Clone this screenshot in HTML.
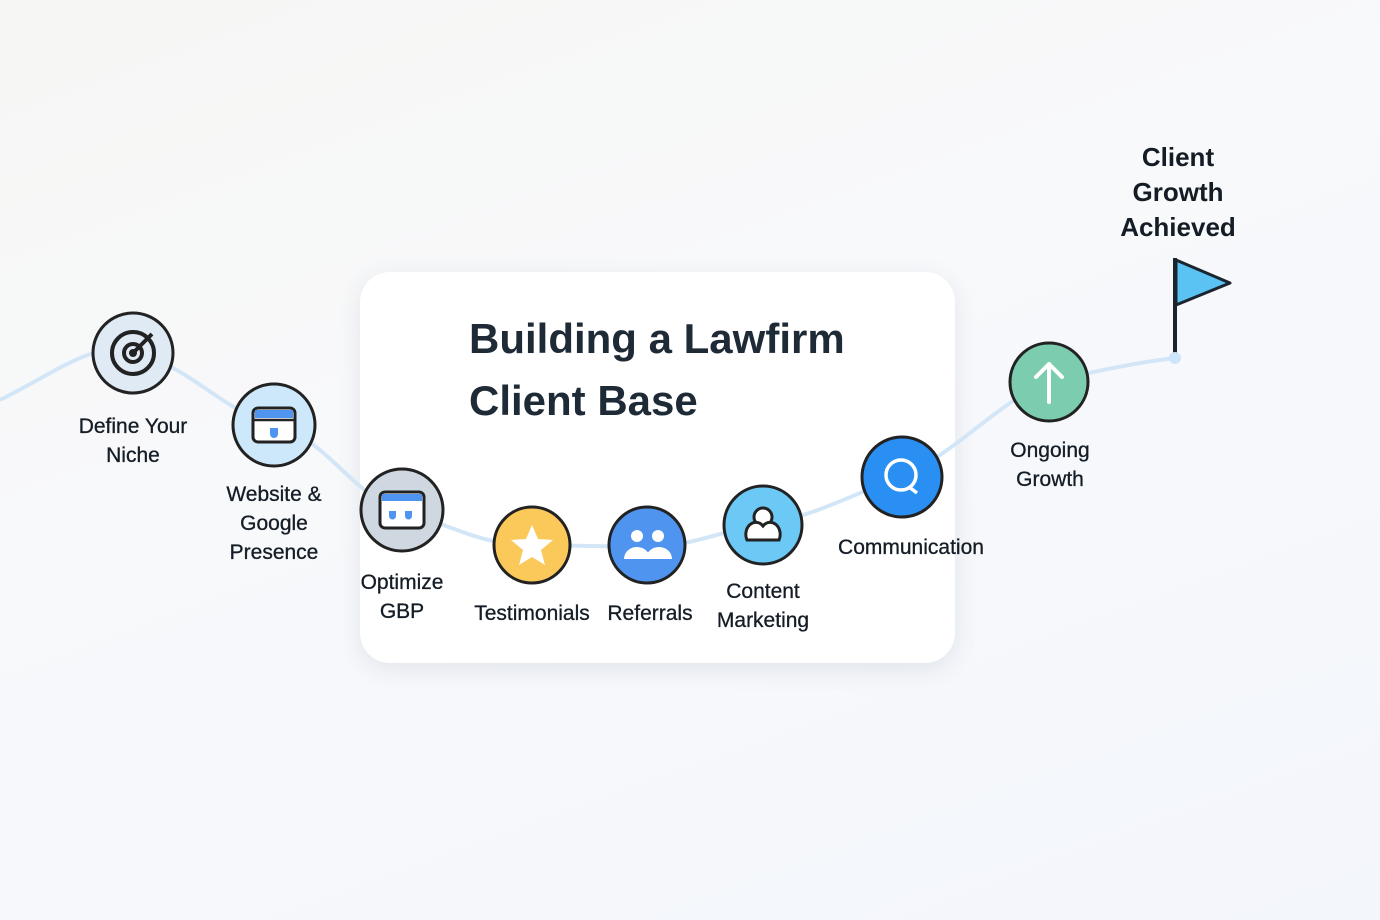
<!DOCTYPE html>
<html><head><style>
html,body{margin:0;padding:0}
body{width:1380px;height:920px;overflow:hidden;background:linear-gradient(160deg,#f6f6f4 0%,#f8f9fb 40%,#f3f6fb 100%);font-family:"Liberation Sans",sans-serif;position:relative}
.card{position:absolute;left:360px;top:272px;width:595px;height:391px;background:#fff;border-radius:30px;box-shadow:0 6px 24px rgba(40,60,90,.10)}
.t{position:absolute;color:#141c26;font-size:21px;text-align:center;line-height:29px;white-space:nowrap;-webkit-text-stroke:0.3px #141c26}
.title{position:absolute;left:469px;top:308px;font-size:42px;font-weight:bold;color:#1f2a37;line-height:62px}
</style></head><body>
<div class="card"></div>
<svg width="1380" height="920" style="position:absolute;left:0;top:0">
<path d="M0,400 C60,370 95,340 133,353 C190,365 220,410 274,425 C330,440 350,495 402,510 C450,525 480,545 532,545 L647,547 C700,545 720,530 763,525 C820,515 860,490 902,477 C960,450 1000,400 1049,382 C1100,370 1140,362 1175,358" fill="none" stroke="#d3e6f8" stroke-width="4"/>
<g stroke="#222" stroke-width="3">
<circle cx="133" cy="353" r="40" fill="#dfeaf5"/>
<circle cx="274" cy="425" r="41" fill="#cde8fb"/>
<circle cx="402" cy="510" r="41" fill="#cfd8e0"/>
<circle cx="532" cy="545" r="38" fill="#fbc85a"/>
<circle cx="647" cy="545" r="38" fill="#4f95f0"/>
<circle cx="763" cy="525" r="39" fill="#6cc8f5"/>
<circle cx="902" cy="477" r="40" fill="#2a8ff2"/>
<circle cx="1049" cy="382" r="39" fill="#7ccdb0"/>
</g>
<g fill="none" stroke="#222" stroke-width="4"><circle cx="133" cy="353" r="21"/><circle cx="133" cy="353" r="9"/><path d="M133,353 L152,334"/></g>
<circle cx="133" cy="353" r="4" fill="#222"/>
<rect x="253" y="408" width="42" height="34" rx="5" fill="#fff" stroke="#222" stroke-width="3"/>
<rect x="255" y="410" width="38" height="8" fill="#4f95f0"/>
<line x1="253" y1="420" x2="295" y2="420" stroke="#222" stroke-width="2.5"/>
<path d="M270,428 h8 v6 a4,4 0 0 1 -8,0z" fill="#4f95f0"/>
<rect x="380" y="492" width="44" height="36" rx="5" fill="#fff" stroke="#222" stroke-width="3"/>
<rect x="382" y="494" width="40" height="7" fill="#4f95f0"/>
<path d="M389,511 h7 v5 a3.5,3.5 0 0 1 -7,0z M405,511 h7 v5 a3.5,3.5 0 0 1 -7,0z" fill="#4f95f0"/>
<polygon points="532,525 538,539 553,540 541,550 545,565 532,557 519,565 523,550 511,540 526,539" fill="#fff"/>
<g fill="#fff"><circle cx="637" cy="536" r="6"/><circle cx="658" cy="536" r="6"/><path d="M624,559 a13,12 0 0 1 26,0z"/><path d="M646,559 a13,12 0 0 1 26,0z"/></g>
<g fill="#fff" stroke="#222" stroke-width="3"><circle cx="763" cy="517" r="9"/><path d="M747,540 a10,12 0 0 1 16,-14 a10,12 0 0 1 16,14z"/></g>
<circle cx="901" cy="475" r="15" fill="none" stroke="#fff" stroke-width="3.5"/>
<path d="M909,487 l8,6" stroke="#fff" stroke-width="3.5"/>
<path d="M1049,402 V364 M1036,377 L1049,364 L1062,377" fill="none" stroke="#fff" stroke-width="4" stroke-linecap="round" stroke-linejoin="round"/>
<line x1="1175" y1="258" x2="1175" y2="358" stroke="#1b2530" stroke-width="4"/>
<polygon points="1176,260 1230,283 1176,305" fill="#5bc3f3" stroke="#1b2530" stroke-width="3" stroke-linejoin="round"/>
<circle cx="1175" cy="358" r="6" fill="#cde6fa"/>
</svg>
<div class="title">Building a Lawfirm<br>Client Base</div>
<div class="t" style="left:63px;top:412px;width:140px">Define Your<br>Niche</div>
<div class="t" style="left:204px;top:480px;width:140px">Website &amp;<br>Google<br>Presence</div>
<div class="t" style="left:332px;top:568px;width:140px">Optimize<br>GBP</div>
<div class="t" style="left:462px;top:599px;width:140px">Testimonials</div>
<div class="t" style="left:580px;top:599px;width:140px">Referrals</div>
<div class="t" style="left:693px;top:577px;width:140px">Content<br>Marketing</div>
<div class="t" style="left:831px;top:533px;width:160px">Communication</div>
<div class="t" style="left:980px;top:436px;width:140px">Ongoing<br>Growth</div>
<div class="t" style="left:1098px;top:140px;width:160px;font-size:26px;font-weight:bold;line-height:35px;-webkit-text-stroke:0">Client<br>Growth<br>Achieved</div>
</body></html>
